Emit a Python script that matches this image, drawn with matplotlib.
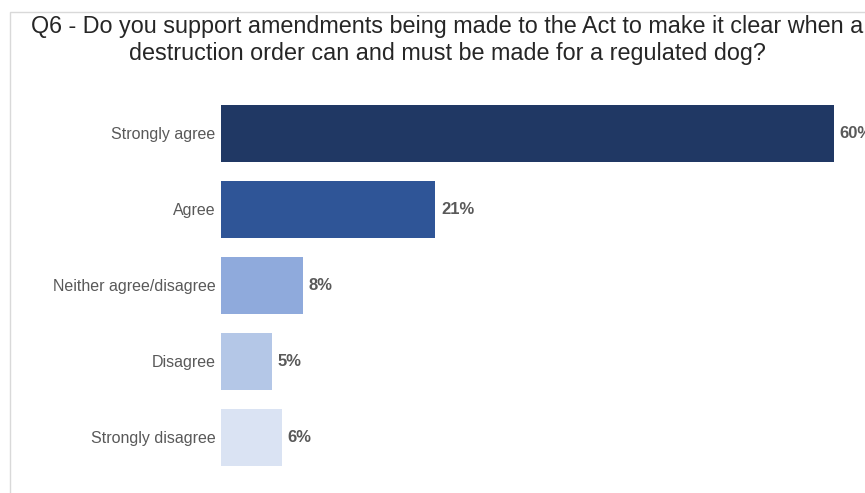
import matplotlib
matplotlib.use("Agg")
import matplotlib.pyplot as plt
from matplotlib.patches import Rectangle

# Survey responses, Q6
categories = ["Strongly agree", "Agree", "Neither agree/disagree",
              "Disagree", "Strongly disagree"]
shares = [60, 21, 8, 5, 6]
bar_colors = ["#203864", "#2F5597", "#8FAADC", "#B4C7E7", "#DAE3F3"]
title = ("Q6 - Do you support amendments being made to the Act to make it clear when a\n"
         "destruction order can and must be made for a regulated dog?")

plt.rcParams["font.family"] = ["Liberation Sans", "DejaVu Sans"]

W, H = 865, 493
fig = plt.figure(figsize=(W / 100, H / 100), dpi=100)

# thin panel frame, open on the right and bottom
frame = Rectangle((10 / W, -0.1), 1.2, 1.1 - 12 / H, transform=fig.transFigure,
                  fill=False, edgecolor="#D9D9D9", linewidth=1.0)
fig.patches.append(frame)

ax = fig.add_axes([221 / W, 17.5 / H, 620 / W, 380 / H])
ypos = list(range(len(categories)))
ax.barh(ypos, shares, height=0.75, color=bar_colors, edgecolor="none")
ax.set_xlim(0, 60.7)
ax.set_ylim(4.5, -0.5)

for y, v in zip(ypos, shares):
    ax.annotate(f"{v}%", (v, y), xytext=(4, 0), textcoords="offset points",
                va="center", ha="left", fontsize=12, fontweight="bold",
                color="#595959", annotation_clip=False)

ax.set_yticks(ypos)
ax.set_yticklabels(categories, fontsize=11.5, color="#595959")
ax.tick_params(axis="y", length=0, pad=4)
ax.set_xticks([])
for s in ax.spines.values():
    s.set_visible(False)
ax.patch.set_alpha(0)

fig.text(447 / W, 1 - 40 / H, title, ha="center", va="center",
         fontsize=16.8, color="#262626", linespacing=1.24)

fig.savefig("out.png", dpi=100)
